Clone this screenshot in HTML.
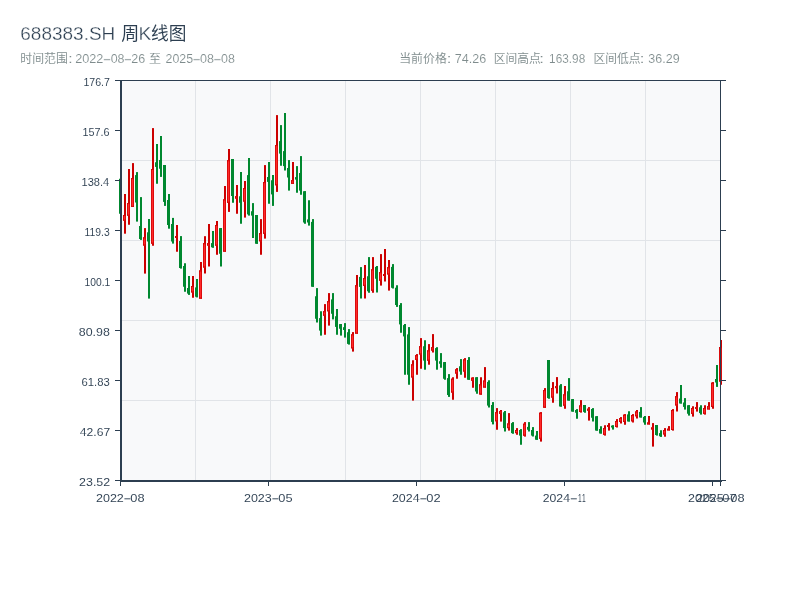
<!DOCTYPE html>
<html><head><meta charset="utf-8"><title>688383.SH</title>
<style>
html,body{margin:0;padding:0;background:#fff;width:800px;height:600px;overflow:hidden}
svg{display:block;will-change:transform}
text{font-family:"Liberation Sans","Noto Sans CJK SC",sans-serif;white-space:pre;stroke:#fff;stroke-width:.12px}
.t{stroke-width:.3px}
.l{stroke-width:.04px}
</style></head><body>
<svg width="800" height="600" viewBox="0 0 800 600">
<rect x="120" y="80" width="600" height="400" fill="#f8f9fa"/>
<rect x="195" y="80" width="1" height="400" fill="#e1e4e8"/>
<rect x="270" y="80" width="1" height="400" fill="#e1e4e8"/>
<rect x="345" y="80" width="1" height="400" fill="#e1e4e8"/>
<rect x="420" y="80" width="1" height="400" fill="#e1e4e8"/>
<rect x="495" y="80" width="1" height="400" fill="#e1e4e8"/>
<rect x="570" y="80" width="1" height="400" fill="#e1e4e8"/>
<rect x="645" y="80" width="1" height="400" fill="#e1e4e8"/>
<rect x="120" y="160" width="600" height="1" fill="#e1e4e8"/>
<rect x="120" y="240" width="600" height="1" fill="#e1e4e8"/>
<rect x="120" y="320" width="600" height="1" fill="#e1e4e8"/>
<rect x="120" y="400" width="600" height="1" fill="#e1e4e8"/>
<rect x="120" y="178.75" width="2" height="35.00" fill="#00882f"/>
<rect x="119" y="178.75" width="3" height="35.00" fill="#00882f"/>
<rect x="124" y="194.00" width="2" height="39.70" fill="#cc0000"/>
<rect x="123" y="215.00" width="3" height="5.60" fill="#ff2a2a"/>
<rect x="123" y="215.00" width="1" height="5.60" fill="#cc0000" opacity=".7"/>
<rect x="125" y="215.00" width="1" height="5.60" fill="#cc0000" opacity=".7"/>
<rect x="123" y="215.00" width="3" height="1.00" fill="#cc0000" opacity=".85"/>
<rect x="123" y="219.60" width="3" height="1.00" fill="#cc0000" opacity=".85"/>
<rect x="128" y="169.00" width="2" height="55.75" fill="#cc0000"/>
<rect x="127" y="203.10" width="3" height="12.50" fill="#ff2a2a"/>
<rect x="127" y="203.10" width="1" height="12.50" fill="#cc0000" opacity=".7"/>
<rect x="129" y="203.10" width="1" height="12.50" fill="#cc0000" opacity=".7"/>
<rect x="127" y="203.10" width="3" height="1.00" fill="#cc0000" opacity=".85"/>
<rect x="127" y="214.60" width="3" height="1.00" fill="#cc0000" opacity=".85"/>
<rect x="132" y="163.10" width="2" height="43.80" fill="#cc0000"/>
<rect x="131" y="178.10" width="3" height="28.80" fill="#ff2a2a"/>
<rect x="131" y="178.10" width="1" height="28.80" fill="#cc0000" opacity=".7"/>
<rect x="133" y="178.10" width="1" height="28.80" fill="#cc0000" opacity=".7"/>
<rect x="131" y="178.10" width="3" height="1.00" fill="#cc0000" opacity=".85"/>
<rect x="131" y="205.90" width="3" height="1.00" fill="#cc0000" opacity=".85"/>
<rect x="136" y="172.10" width="2" height="49.50" fill="#00882f"/>
<rect x="135" y="175.10" width="3" height="27.40" fill="#00882f"/>
<rect x="140" y="197.10" width="2" height="42.80" fill="#00882f"/>
<rect x="139" y="226.00" width="3" height="13.00" fill="#00882f"/>
<rect x="144" y="228.10" width="2" height="45.50" fill="#cc0000"/>
<rect x="143" y="237.40" width="3" height="8.10" fill="#ff2a2a"/>
<rect x="143" y="237.40" width="1" height="8.10" fill="#cc0000" opacity=".7"/>
<rect x="145" y="237.40" width="1" height="8.10" fill="#cc0000" opacity=".7"/>
<rect x="143" y="237.40" width="3" height="1.00" fill="#cc0000" opacity=".85"/>
<rect x="143" y="244.50" width="3" height="1.00" fill="#cc0000" opacity=".85"/>
<rect x="148" y="219.00" width="2" height="79.60" fill="#00882f"/>
<rect x="147" y="232.30" width="3" height="9.20" fill="#00882f"/>
<rect x="152" y="128.10" width="2" height="117.65" fill="#cc0000"/>
<rect x="151" y="169.00" width="3" height="74.60" fill="#ff2a2a"/>
<rect x="151" y="169.00" width="1" height="74.60" fill="#cc0000" opacity=".7"/>
<rect x="153" y="169.00" width="1" height="74.60" fill="#cc0000" opacity=".7"/>
<rect x="151" y="169.00" width="3" height="1.00" fill="#cc0000" opacity=".85"/>
<rect x="151" y="242.60" width="3" height="1.00" fill="#cc0000" opacity=".85"/>
<rect x="156" y="144.00" width="2" height="39.75" fill="#00882f"/>
<rect x="155" y="162.25" width="3" height="4.65" fill="#00882f"/>
<rect x="160" y="136.00" width="2" height="40.90" fill="#00882f"/>
<rect x="159" y="160.00" width="3" height="8.75" fill="#00882f"/>
<rect x="164" y="165.00" width="2" height="40.90" fill="#00882f"/>
<rect x="163" y="165.00" width="3" height="36.90" fill="#00882f"/>
<rect x="168" y="194.00" width="2" height="34.70" fill="#00882f"/>
<rect x="167" y="200.00" width="3" height="25.00" fill="#00882f"/>
<rect x="172" y="217.90" width="2" height="25.70" fill="#00882f"/>
<rect x="171" y="224.00" width="3" height="17.50" fill="#00882f"/>
<rect x="176" y="225.00" width="2" height="26.75" fill="#cc0000"/>
<rect x="175" y="236.00" width="3" height="1.90" fill="#ff2a2a"/>
<rect x="175" y="236.00" width="1" height="1.90" fill="#cc0000" opacity=".7"/>
<rect x="177" y="236.00" width="1" height="1.90" fill="#cc0000" opacity=".7"/>
<rect x="175" y="236.00" width="3" height="0.95" fill="#cc0000" opacity=".85"/>
<rect x="175" y="236.95" width="3" height="0.95" fill="#cc0000" opacity=".85"/>
<rect x="180" y="236.10" width="2" height="32.50" fill="#00882f"/>
<rect x="179" y="241.00" width="3" height="27.00" fill="#00882f"/>
<rect x="184" y="263.25" width="2" height="28.50" fill="#00882f"/>
<rect x="183" y="266.00" width="3" height="20.75" fill="#00882f"/>
<rect x="188" y="276.00" width="2" height="18.90" fill="#00882f"/>
<rect x="187" y="288.00" width="3" height="5.60" fill="#00882f"/>
<rect x="192" y="276.00" width="2" height="21.75" fill="#cc0000"/>
<rect x="191" y="286.00" width="3" height="6.40" fill="#ff2a2a"/>
<rect x="191" y="286.00" width="1" height="6.40" fill="#cc0000" opacity=".7"/>
<rect x="193" y="286.00" width="1" height="6.40" fill="#cc0000" opacity=".7"/>
<rect x="191" y="286.00" width="3" height="1.00" fill="#cc0000" opacity=".85"/>
<rect x="191" y="291.40" width="3" height="1.00" fill="#cc0000" opacity=".85"/>
<rect x="196" y="279.00" width="2" height="18.40" fill="#00882f"/>
<rect x="195" y="287.40" width="3" height="9.35" fill="#00882f"/>
<rect x="200" y="262.00" width="2" height="36.60" fill="#cc0000"/>
<rect x="199" y="270.50" width="3" height="28.10" fill="#ff2a2a"/>
<rect x="199" y="270.50" width="1" height="28.10" fill="#cc0000" opacity=".7"/>
<rect x="201" y="270.50" width="1" height="28.10" fill="#cc0000" opacity=".7"/>
<rect x="199" y="270.50" width="3" height="1.00" fill="#cc0000" opacity=".85"/>
<rect x="199" y="297.60" width="3" height="1.00" fill="#cc0000" opacity=".85"/>
<rect x="204" y="236.20" width="2" height="37.30" fill="#cc0000"/>
<rect x="203" y="243.20" width="3" height="24.30" fill="#ff2a2a"/>
<rect x="203" y="243.20" width="1" height="24.30" fill="#cc0000" opacity=".7"/>
<rect x="205" y="243.20" width="1" height="24.30" fill="#cc0000" opacity=".7"/>
<rect x="203" y="243.20" width="3" height="1.00" fill="#cc0000" opacity=".85"/>
<rect x="203" y="266.50" width="3" height="1.00" fill="#cc0000" opacity=".85"/>
<rect x="208" y="224.00" width="2" height="42.50" fill="#cc0000"/>
<rect x="207" y="243.20" width="3" height="2.30" fill="#ff2a2a"/>
<rect x="207" y="243.20" width="1" height="2.30" fill="#cc0000" opacity=".7"/>
<rect x="209" y="243.20" width="1" height="2.30" fill="#cc0000" opacity=".7"/>
<rect x="207" y="243.20" width="3" height="1.00" fill="#cc0000" opacity=".85"/>
<rect x="207" y="244.50" width="3" height="1.00" fill="#cc0000" opacity=".85"/>
<rect x="212" y="231.00" width="2" height="16.75" fill="#00882f"/>
<rect x="211" y="243.10" width="3" height="4.20" fill="#00882f"/>
<rect x="216" y="221.00" width="2" height="33.75" fill="#cc0000"/>
<rect x="215" y="225.00" width="3" height="20.60" fill="#ff2a2a"/>
<rect x="215" y="225.00" width="1" height="20.60" fill="#cc0000" opacity=".7"/>
<rect x="217" y="225.00" width="1" height="20.60" fill="#cc0000" opacity=".7"/>
<rect x="215" y="225.00" width="3" height="1.00" fill="#cc0000" opacity=".85"/>
<rect x="215" y="244.60" width="3" height="1.00" fill="#cc0000" opacity=".85"/>
<rect x="220" y="228.10" width="2" height="38.40" fill="#00882f"/>
<rect x="219" y="228.10" width="3" height="25.65" fill="#00882f"/>
<rect x="224" y="186.00" width="2" height="65.60" fill="#cc0000"/>
<rect x="223" y="199.40" width="3" height="52.20" fill="#ff2a2a"/>
<rect x="223" y="199.40" width="1" height="52.20" fill="#cc0000" opacity=".7"/>
<rect x="225" y="199.40" width="1" height="52.20" fill="#cc0000" opacity=".7"/>
<rect x="223" y="199.40" width="3" height="1.00" fill="#cc0000" opacity=".85"/>
<rect x="223" y="250.60" width="3" height="1.00" fill="#cc0000" opacity=".85"/>
<rect x="228" y="149.00" width="2" height="62.90" fill="#cc0000"/>
<rect x="227" y="160.25" width="3" height="42.50" fill="#ff2a2a"/>
<rect x="227" y="160.25" width="1" height="42.50" fill="#cc0000" opacity=".7"/>
<rect x="229" y="160.25" width="1" height="42.50" fill="#cc0000" opacity=".7"/>
<rect x="227" y="160.25" width="3" height="1.00" fill="#cc0000" opacity=".85"/>
<rect x="227" y="201.75" width="3" height="1.00" fill="#cc0000" opacity=".85"/>
<rect x="232" y="159.00" width="2" height="43.75" fill="#00882f"/>
<rect x="231" y="159.00" width="3" height="37.00" fill="#00882f"/>
<rect x="236" y="185.00" width="2" height="28.75" fill="#cc0000"/>
<rect x="235" y="196.25" width="3" height="2.25" fill="#ff2a2a"/>
<rect x="235" y="196.25" width="1" height="2.25" fill="#cc0000" opacity=".7"/>
<rect x="237" y="196.25" width="1" height="2.25" fill="#cc0000" opacity=".7"/>
<rect x="235" y="196.25" width="3" height="1.00" fill="#cc0000" opacity=".85"/>
<rect x="235" y="197.50" width="3" height="1.00" fill="#cc0000" opacity=".85"/>
<rect x="240" y="172.00" width="2" height="51.75" fill="#00882f"/>
<rect x="239" y="196.25" width="3" height="6.50" fill="#00882f"/>
<rect x="244" y="181.00" width="2" height="36.60" fill="#cc0000"/>
<rect x="243" y="188.10" width="3" height="13.40" fill="#ff2a2a"/>
<rect x="243" y="188.10" width="1" height="13.40" fill="#cc0000" opacity=".7"/>
<rect x="245" y="188.10" width="1" height="13.40" fill="#cc0000" opacity=".7"/>
<rect x="243" y="188.10" width="3" height="1.00" fill="#cc0000" opacity=".85"/>
<rect x="243" y="200.50" width="3" height="1.00" fill="#cc0000" opacity=".85"/>
<rect x="248" y="158.00" width="2" height="57.60" fill="#00882f"/>
<rect x="247" y="175.10" width="3" height="39.30" fill="#00882f"/>
<rect x="252" y="203.10" width="2" height="34.90" fill="#00882f"/>
<rect x="251" y="211.25" width="3" height="4.35" fill="#00882f"/>
<rect x="256" y="215.00" width="2" height="28.75" fill="#00882f"/>
<rect x="255" y="215.00" width="3" height="28.75" fill="#00882f"/>
<rect x="260" y="219.10" width="2" height="35.65" fill="#cc0000"/>
<rect x="259" y="233.10" width="3" height="8.15" fill="#ff2a2a"/>
<rect x="259" y="233.10" width="1" height="8.15" fill="#cc0000" opacity=".7"/>
<rect x="261" y="233.10" width="1" height="8.15" fill="#cc0000" opacity=".7"/>
<rect x="259" y="233.10" width="3" height="1.00" fill="#cc0000" opacity=".85"/>
<rect x="259" y="240.25" width="3" height="1.00" fill="#cc0000" opacity=".85"/>
<rect x="264" y="165.10" width="2" height="73.50" fill="#cc0000"/>
<rect x="263" y="182.10" width="3" height="51.65" fill="#ff2a2a"/>
<rect x="263" y="182.10" width="1" height="51.65" fill="#cc0000" opacity=".7"/>
<rect x="265" y="182.10" width="1" height="51.65" fill="#cc0000" opacity=".7"/>
<rect x="263" y="182.10" width="3" height="1.00" fill="#cc0000" opacity=".85"/>
<rect x="263" y="232.75" width="3" height="1.00" fill="#cc0000" opacity=".85"/>
<rect x="268" y="162.00" width="2" height="41.75" fill="#00882f"/>
<rect x="267" y="177.00" width="3" height="4.90" fill="#00882f"/>
<rect x="272" y="175.00" width="2" height="30.90" fill="#00882f"/>
<rect x="271" y="180.25" width="3" height="14.15" fill="#00882f"/>
<rect x="276" y="115.10" width="2" height="76.80" fill="#cc0000"/>
<rect x="275" y="145.10" width="3" height="40.15" fill="#ff2a2a"/>
<rect x="275" y="145.10" width="1" height="40.15" fill="#cc0000" opacity=".7"/>
<rect x="277" y="145.10" width="1" height="40.15" fill="#cc0000" opacity=".7"/>
<rect x="275" y="145.10" width="3" height="1.00" fill="#cc0000" opacity=".85"/>
<rect x="275" y="184.25" width="3" height="1.00" fill="#cc0000" opacity=".85"/>
<rect x="280" y="125.10" width="2" height="40.65" fill="#00882f"/>
<rect x="279" y="141.10" width="3" height="12.50" fill="#00882f"/>
<rect x="284" y="113.00" width="2" height="57.50" fill="#00882f"/>
<rect x="283" y="151.10" width="3" height="15.00" fill="#00882f"/>
<rect x="288" y="160.10" width="2" height="30.50" fill="#00882f"/>
<rect x="287" y="168.00" width="3" height="9.50" fill="#00882f"/>
<rect x="292" y="162.00" width="2" height="21.75" fill="#cc0000"/>
<rect x="291" y="180.25" width="3" height="3.50" fill="#ff2a2a"/>
<rect x="291" y="180.25" width="1" height="3.50" fill="#cc0000" opacity=".7"/>
<rect x="293" y="180.25" width="1" height="3.50" fill="#cc0000" opacity=".7"/>
<rect x="291" y="180.25" width="3" height="1.00" fill="#cc0000" opacity=".85"/>
<rect x="291" y="182.75" width="3" height="1.00" fill="#cc0000" opacity=".85"/>
<rect x="296" y="166.10" width="2" height="26.65" fill="#00882f"/>
<rect x="295" y="177.10" width="3" height="2.50" fill="#00882f"/>
<rect x="300" y="156.10" width="2" height="38.65" fill="#00882f"/>
<rect x="299" y="173.00" width="3" height="17.60" fill="#00882f"/>
<rect x="304" y="191.25" width="2" height="32.50" fill="#00882f"/>
<rect x="303" y="191.25" width="3" height="31.25" fill="#00882f"/>
<rect x="308" y="200.25" width="2" height="25.35" fill="#00882f"/>
<rect x="307" y="219.40" width="3" height="3.10" fill="#00882f"/>
<rect x="312" y="219.10" width="2" height="67.65" fill="#00882f"/>
<rect x="311" y="221.90" width="3" height="64.85" fill="#00882f"/>
<rect x="316" y="288.10" width="2" height="34.40" fill="#00882f"/>
<rect x="315" y="296.25" width="3" height="22.50" fill="#00882f"/>
<rect x="320" y="311.25" width="2" height="24.35" fill="#00882f"/>
<rect x="319" y="318.10" width="3" height="12.50" fill="#00882f"/>
<rect x="324" y="304.10" width="2" height="30.65" fill="#cc0000"/>
<rect x="323" y="311.25" width="3" height="4.35" fill="#ff2a2a"/>
<rect x="323" y="311.25" width="1" height="4.35" fill="#cc0000" opacity=".7"/>
<rect x="325" y="311.25" width="1" height="4.35" fill="#cc0000" opacity=".7"/>
<rect x="323" y="311.25" width="3" height="1.00" fill="#cc0000" opacity=".85"/>
<rect x="323" y="314.60" width="3" height="1.00" fill="#cc0000" opacity=".85"/>
<rect x="328" y="293.10" width="2" height="32.50" fill="#cc0000"/>
<rect x="327" y="301.25" width="3" height="10.00" fill="#ff2a2a"/>
<rect x="327" y="301.25" width="1" height="10.00" fill="#cc0000" opacity=".7"/>
<rect x="329" y="301.25" width="1" height="10.00" fill="#cc0000" opacity=".7"/>
<rect x="327" y="301.25" width="3" height="1.00" fill="#cc0000" opacity=".85"/>
<rect x="327" y="310.25" width="3" height="1.00" fill="#cc0000" opacity=".85"/>
<rect x="332" y="293.10" width="2" height="26.30" fill="#00882f"/>
<rect x="331" y="299.40" width="3" height="14.35" fill="#00882f"/>
<rect x="336" y="309.00" width="2" height="25.75" fill="#00882f"/>
<rect x="335" y="316.25" width="3" height="10.65" fill="#00882f"/>
<rect x="340" y="324.10" width="2" height="11.50" fill="#00882f"/>
<rect x="339" y="324.10" width="3" height="4.65" fill="#00882f"/>
<rect x="344" y="323.10" width="2" height="14.50" fill="#00882f"/>
<rect x="343" y="327.20" width="3" height="2.80" fill="#00882f"/>
<rect x="348" y="329.10" width="2" height="15.50" fill="#00882f"/>
<rect x="347" y="332.20" width="3" height="11.70" fill="#00882f"/>
<rect x="352" y="332.10" width="2" height="19.50" fill="#cc0000"/>
<rect x="351" y="334.40" width="3" height="13.90" fill="#ff2a2a"/>
<rect x="351" y="334.40" width="1" height="13.90" fill="#cc0000" opacity=".7"/>
<rect x="353" y="334.40" width="1" height="13.90" fill="#cc0000" opacity=".7"/>
<rect x="351" y="334.40" width="3" height="1.00" fill="#cc0000" opacity=".85"/>
<rect x="351" y="347.30" width="3" height="1.00" fill="#cc0000" opacity=".85"/>
<rect x="356" y="275.00" width="2" height="58.60" fill="#cc0000"/>
<rect x="355" y="285.30" width="3" height="48.30" fill="#ff2a2a"/>
<rect x="355" y="285.30" width="1" height="48.30" fill="#cc0000" opacity=".7"/>
<rect x="357" y="285.30" width="1" height="48.30" fill="#cc0000" opacity=".7"/>
<rect x="355" y="285.30" width="3" height="1.00" fill="#cc0000" opacity=".85"/>
<rect x="355" y="332.60" width="3" height="1.00" fill="#cc0000" opacity=".85"/>
<rect x="360" y="267.10" width="2" height="31.40" fill="#00882f"/>
<rect x="359" y="276.90" width="3" height="10.00" fill="#00882f"/>
<rect x="364" y="265.00" width="2" height="33.50" fill="#cc0000"/>
<rect x="363" y="278.10" width="3" height="7.70" fill="#ff2a2a"/>
<rect x="363" y="278.10" width="1" height="7.70" fill="#cc0000" opacity=".7"/>
<rect x="365" y="278.10" width="1" height="7.70" fill="#cc0000" opacity=".7"/>
<rect x="363" y="278.10" width="3" height="1.00" fill="#cc0000" opacity=".85"/>
<rect x="363" y="284.80" width="3" height="1.00" fill="#cc0000" opacity=".85"/>
<rect x="368" y="257.10" width="2" height="35.65" fill="#00882f"/>
<rect x="367" y="276.25" width="3" height="15.00" fill="#00882f"/>
<rect x="372" y="257.10" width="2" height="35.65" fill="#cc0000"/>
<rect x="371" y="269.40" width="3" height="21.20" fill="#ff2a2a"/>
<rect x="371" y="269.40" width="1" height="21.20" fill="#cc0000" opacity=".7"/>
<rect x="373" y="269.40" width="1" height="21.20" fill="#cc0000" opacity=".7"/>
<rect x="371" y="269.40" width="3" height="1.00" fill="#cc0000" opacity=".85"/>
<rect x="371" y="289.60" width="3" height="1.00" fill="#cc0000" opacity=".85"/>
<rect x="376" y="266.00" width="2" height="26.50" fill="#00882f"/>
<rect x="375" y="266.90" width="3" height="11.85" fill="#00882f"/>
<rect x="380" y="254.10" width="2" height="31.50" fill="#cc0000"/>
<rect x="379" y="272.25" width="3" height="8.35" fill="#ff2a2a"/>
<rect x="379" y="272.25" width="1" height="8.35" fill="#cc0000" opacity=".7"/>
<rect x="381" y="272.25" width="1" height="8.35" fill="#cc0000" opacity=".7"/>
<rect x="379" y="272.25" width="3" height="1.00" fill="#cc0000" opacity=".85"/>
<rect x="379" y="279.60" width="3" height="1.00" fill="#cc0000" opacity=".85"/>
<rect x="384" y="249.00" width="2" height="32.50" fill="#cc0000"/>
<rect x="383" y="274.00" width="3" height="2.00" fill="#ff2a2a"/>
<rect x="383" y="274.00" width="1" height="2.00" fill="#cc0000" opacity=".7"/>
<rect x="385" y="274.00" width="1" height="2.00" fill="#cc0000" opacity=".7"/>
<rect x="383" y="274.00" width="3" height="1.00" fill="#cc0000" opacity=".85"/>
<rect x="383" y="275.00" width="3" height="1.00" fill="#cc0000" opacity=".85"/>
<rect x="388" y="260.00" width="2" height="30.60" fill="#cc0000"/>
<rect x="387" y="267.25" width="3" height="7.15" fill="#ff2a2a"/>
<rect x="387" y="267.25" width="1" height="7.15" fill="#cc0000" opacity=".7"/>
<rect x="389" y="267.25" width="1" height="7.15" fill="#cc0000" opacity=".7"/>
<rect x="387" y="267.25" width="3" height="1.00" fill="#cc0000" opacity=".85"/>
<rect x="387" y="273.40" width="3" height="1.00" fill="#cc0000" opacity=".85"/>
<rect x="392" y="264.10" width="2" height="24.40" fill="#00882f"/>
<rect x="391" y="266.90" width="3" height="20.90" fill="#00882f"/>
<rect x="396" y="285.25" width="2" height="21.65" fill="#00882f"/>
<rect x="395" y="287.70" width="3" height="17.30" fill="#00882f"/>
<rect x="400" y="303.10" width="2" height="29.65" fill="#00882f"/>
<rect x="399" y="305.00" width="3" height="19.40" fill="#00882f"/>
<rect x="404" y="324.00" width="2" height="50.75" fill="#00882f"/>
<rect x="403" y="325.10" width="3" height="11.30" fill="#00882f"/>
<rect x="408" y="327.10" width="2" height="57.65" fill="#00882f"/>
<rect x="407" y="334.40" width="3" height="40.35" fill="#00882f"/>
<rect x="412" y="360.25" width="2" height="40.35" fill="#cc0000"/>
<rect x="411" y="364.40" width="3" height="13.00" fill="#ff2a2a"/>
<rect x="411" y="364.40" width="1" height="13.00" fill="#cc0000" opacity=".7"/>
<rect x="413" y="364.40" width="1" height="13.00" fill="#cc0000" opacity=".7"/>
<rect x="411" y="364.40" width="3" height="1.00" fill="#cc0000" opacity=".85"/>
<rect x="411" y="376.40" width="3" height="1.00" fill="#cc0000" opacity=".85"/>
<rect x="416" y="354.10" width="2" height="20.65" fill="#cc0000"/>
<rect x="415" y="355.25" width="3" height="4.50" fill="#ff2a2a"/>
<rect x="415" y="355.25" width="1" height="4.50" fill="#cc0000" opacity=".7"/>
<rect x="417" y="355.25" width="1" height="4.50" fill="#cc0000" opacity=".7"/>
<rect x="415" y="355.25" width="3" height="1.00" fill="#cc0000" opacity=".85"/>
<rect x="415" y="358.75" width="3" height="1.00" fill="#cc0000" opacity=".85"/>
<rect x="420" y="338.10" width="2" height="30.65" fill="#cc0000"/>
<rect x="419" y="346.25" width="3" height="8.15" fill="#ff2a2a"/>
<rect x="419" y="346.25" width="1" height="8.15" fill="#cc0000" opacity=".7"/>
<rect x="421" y="346.25" width="1" height="8.15" fill="#cc0000" opacity=".7"/>
<rect x="419" y="346.25" width="3" height="1.00" fill="#cc0000" opacity=".85"/>
<rect x="419" y="353.40" width="3" height="1.00" fill="#cc0000" opacity=".85"/>
<rect x="424" y="340.25" width="2" height="29.45" fill="#00882f"/>
<rect x="423" y="346.25" width="3" height="14.35" fill="#00882f"/>
<rect x="428" y="344.10" width="2" height="20.60" fill="#cc0000"/>
<rect x="427" y="350.40" width="3" height="10.20" fill="#ff2a2a"/>
<rect x="427" y="350.40" width="1" height="10.20" fill="#cc0000" opacity=".7"/>
<rect x="429" y="350.40" width="1" height="10.20" fill="#cc0000" opacity=".7"/>
<rect x="427" y="350.40" width="3" height="1.00" fill="#cc0000" opacity=".85"/>
<rect x="427" y="359.60" width="3" height="1.00" fill="#cc0000" opacity=".85"/>
<rect x="432" y="334.10" width="2" height="18.40" fill="#cc0000"/>
<rect x="431" y="347.25" width="3" height="3.25" fill="#ff2a2a"/>
<rect x="431" y="347.25" width="1" height="3.25" fill="#cc0000" opacity=".7"/>
<rect x="433" y="347.25" width="1" height="3.25" fill="#cc0000" opacity=".7"/>
<rect x="431" y="347.25" width="3" height="1.00" fill="#cc0000" opacity=".85"/>
<rect x="431" y="349.50" width="3" height="1.00" fill="#cc0000" opacity=".85"/>
<rect x="436" y="347.20" width="2" height="22.50" fill="#00882f"/>
<rect x="435" y="348.10" width="3" height="12.50" fill="#00882f"/>
<rect x="440" y="353.10" width="2" height="14.65" fill="#00882f"/>
<rect x="439" y="361.25" width="3" height="2.50" fill="#00882f"/>
<rect x="444" y="362.10" width="2" height="17.65" fill="#00882f"/>
<rect x="443" y="362.10" width="3" height="16.65" fill="#00882f"/>
<rect x="448" y="374.10" width="2" height="22.80" fill="#00882f"/>
<rect x="447" y="378.10" width="3" height="16.90" fill="#00882f"/>
<rect x="452" y="377.25" width="2" height="22.50" fill="#cc0000"/>
<rect x="451" y="378.75" width="3" height="13.75" fill="#ff2a2a"/>
<rect x="451" y="378.75" width="1" height="13.75" fill="#cc0000" opacity=".7"/>
<rect x="453" y="378.75" width="1" height="13.75" fill="#cc0000" opacity=".7"/>
<rect x="451" y="378.75" width="3" height="1.00" fill="#cc0000" opacity=".85"/>
<rect x="451" y="391.50" width="3" height="1.00" fill="#cc0000" opacity=".85"/>
<rect x="456" y="368.10" width="2" height="10.65" fill="#cc0000"/>
<rect x="455" y="369.40" width="3" height="4.10" fill="#ff2a2a"/>
<rect x="455" y="369.40" width="1" height="4.10" fill="#cc0000" opacity=".7"/>
<rect x="457" y="369.40" width="1" height="4.10" fill="#cc0000" opacity=".7"/>
<rect x="455" y="369.40" width="3" height="1.00" fill="#cc0000" opacity=".85"/>
<rect x="455" y="372.50" width="3" height="1.00" fill="#cc0000" opacity=".85"/>
<rect x="460" y="359.10" width="2" height="15.65" fill="#00882f"/>
<rect x="459" y="366.25" width="3" height="5.25" fill="#00882f"/>
<rect x="464" y="358.10" width="2" height="19.65" fill="#cc0000"/>
<rect x="463" y="359.40" width="3" height="12.10" fill="#ff2a2a"/>
<rect x="463" y="359.40" width="1" height="12.10" fill="#cc0000" opacity=".7"/>
<rect x="465" y="359.40" width="1" height="12.10" fill="#cc0000" opacity=".7"/>
<rect x="463" y="359.40" width="3" height="1.00" fill="#cc0000" opacity=".85"/>
<rect x="463" y="370.50" width="3" height="1.00" fill="#cc0000" opacity=".85"/>
<rect x="468" y="357.10" width="2" height="22.65" fill="#00882f"/>
<rect x="467" y="360.00" width="3" height="19.75" fill="#00882f"/>
<rect x="472" y="377.25" width="2" height="10.50" fill="#cc0000"/>
<rect x="471" y="377.75" width="3" height="2.85" fill="#ff2a2a"/>
<rect x="471" y="377.75" width="1" height="2.85" fill="#cc0000" opacity=".7"/>
<rect x="473" y="377.75" width="1" height="2.85" fill="#cc0000" opacity=".7"/>
<rect x="471" y="377.75" width="3" height="1.00" fill="#cc0000" opacity=".85"/>
<rect x="471" y="379.60" width="3" height="1.00" fill="#cc0000" opacity=".85"/>
<rect x="476" y="377.25" width="2" height="16.50" fill="#00882f"/>
<rect x="475" y="377.25" width="3" height="14.25" fill="#00882f"/>
<rect x="480" y="377.25" width="2" height="17.50" fill="#cc0000"/>
<rect x="479" y="384.40" width="3" height="10.00" fill="#ff2a2a"/>
<rect x="479" y="384.40" width="1" height="10.00" fill="#cc0000" opacity=".7"/>
<rect x="481" y="384.40" width="1" height="10.00" fill="#cc0000" opacity=".7"/>
<rect x="479" y="384.40" width="3" height="1.00" fill="#cc0000" opacity=".85"/>
<rect x="479" y="393.40" width="3" height="1.00" fill="#cc0000" opacity=".85"/>
<rect x="484" y="367.10" width="2" height="20.40" fill="#cc0000"/>
<rect x="483" y="380.60" width="3" height="6.90" fill="#ff2a2a"/>
<rect x="483" y="380.60" width="1" height="6.90" fill="#cc0000" opacity=".7"/>
<rect x="485" y="380.60" width="1" height="6.90" fill="#cc0000" opacity=".7"/>
<rect x="483" y="380.60" width="3" height="1.00" fill="#cc0000" opacity=".85"/>
<rect x="483" y="386.50" width="3" height="1.00" fill="#cc0000" opacity=".85"/>
<rect x="488" y="380.25" width="2" height="27.25" fill="#00882f"/>
<rect x="487" y="381.90" width="3" height="23.70" fill="#00882f"/>
<rect x="492" y="402.10" width="2" height="22.30" fill="#00882f"/>
<rect x="491" y="405.00" width="3" height="16.90" fill="#00882f"/>
<rect x="496" y="408.10" width="2" height="21.65" fill="#cc0000"/>
<rect x="495" y="412.25" width="3" height="9.00" fill="#ff2a2a"/>
<rect x="495" y="412.25" width="1" height="9.00" fill="#cc0000" opacity=".7"/>
<rect x="497" y="412.25" width="1" height="9.00" fill="#cc0000" opacity=".7"/>
<rect x="495" y="412.25" width="3" height="1.00" fill="#cc0000" opacity=".85"/>
<rect x="495" y="420.25" width="3" height="1.00" fill="#cc0000" opacity=".85"/>
<rect x="500" y="410.00" width="2" height="11.60" fill="#cc0000"/>
<rect x="499" y="411.25" width="3" height="2.50" fill="#ff2a2a"/>
<rect x="499" y="411.25" width="1" height="2.50" fill="#cc0000" opacity=".7"/>
<rect x="501" y="411.25" width="1" height="2.50" fill="#cc0000" opacity=".7"/>
<rect x="499" y="411.25" width="3" height="1.00" fill="#cc0000" opacity=".85"/>
<rect x="499" y="412.75" width="3" height="1.00" fill="#cc0000" opacity=".85"/>
<rect x="504" y="411.00" width="2" height="20.50" fill="#00882f"/>
<rect x="503" y="412.25" width="3" height="15.85" fill="#00882f"/>
<rect x="508" y="413.10" width="2" height="17.50" fill="#cc0000"/>
<rect x="507" y="423.50" width="3" height="4.60" fill="#ff2a2a"/>
<rect x="507" y="423.50" width="1" height="4.60" fill="#cc0000" opacity=".7"/>
<rect x="509" y="423.50" width="1" height="4.60" fill="#cc0000" opacity=".7"/>
<rect x="507" y="423.50" width="3" height="1.00" fill="#cc0000" opacity=".85"/>
<rect x="507" y="427.10" width="3" height="1.00" fill="#cc0000" opacity=".85"/>
<rect x="512" y="422.10" width="2" height="11.65" fill="#00882f"/>
<rect x="511" y="423.10" width="3" height="10.00" fill="#00882f"/>
<rect x="516" y="428.10" width="2" height="6.65" fill="#cc0000"/>
<rect x="515" y="430.00" width="3" height="3.10" fill="#ff2a2a"/>
<rect x="515" y="430.00" width="1" height="3.10" fill="#cc0000" opacity=".7"/>
<rect x="517" y="430.00" width="1" height="3.10" fill="#cc0000" opacity=".7"/>
<rect x="515" y="430.00" width="3" height="1.00" fill="#cc0000" opacity=".85"/>
<rect x="515" y="432.10" width="3" height="1.00" fill="#cc0000" opacity=".85"/>
<rect x="520" y="429.10" width="2" height="15.65" fill="#00882f"/>
<rect x="519" y="430.00" width="3" height="5.60" fill="#00882f"/>
<rect x="524" y="422.10" width="2" height="14.50" fill="#cc0000"/>
<rect x="523" y="423.75" width="3" height="11.85" fill="#ff2a2a"/>
<rect x="523" y="423.75" width="1" height="11.85" fill="#cc0000" opacity=".7"/>
<rect x="525" y="423.75" width="1" height="11.85" fill="#cc0000" opacity=".7"/>
<rect x="523" y="423.75" width="3" height="1.00" fill="#cc0000" opacity=".85"/>
<rect x="523" y="434.60" width="3" height="1.00" fill="#cc0000" opacity=".85"/>
<rect x="528" y="422.10" width="2" height="9.40" fill="#00882f"/>
<rect x="527" y="426.90" width="3" height="2.85" fill="#00882f"/>
<rect x="532" y="427.10" width="2" height="9.40" fill="#00882f"/>
<rect x="531" y="430.00" width="3" height="5.60" fill="#00882f"/>
<rect x="536" y="431.00" width="2" height="8.75" fill="#00882f"/>
<rect x="535" y="435.60" width="3" height="4.15" fill="#00882f"/>
<rect x="540" y="412.10" width="2" height="29.50" fill="#cc0000"/>
<rect x="539" y="412.75" width="3" height="26.00" fill="#ff2a2a"/>
<rect x="539" y="412.75" width="1" height="26.00" fill="#cc0000" opacity=".7"/>
<rect x="541" y="412.75" width="1" height="26.00" fill="#cc0000" opacity=".7"/>
<rect x="539" y="412.75" width="3" height="1.00" fill="#cc0000" opacity=".85"/>
<rect x="539" y="437.75" width="3" height="1.00" fill="#cc0000" opacity=".85"/>
<rect x="544" y="388.10" width="2" height="19.65" fill="#cc0000"/>
<rect x="543" y="390.10" width="3" height="17.50" fill="#ff2a2a"/>
<rect x="543" y="390.10" width="1" height="17.50" fill="#cc0000" opacity=".7"/>
<rect x="545" y="390.10" width="1" height="17.50" fill="#cc0000" opacity=".7"/>
<rect x="543" y="390.10" width="3" height="1.00" fill="#cc0000" opacity=".85"/>
<rect x="543" y="406.60" width="3" height="1.00" fill="#cc0000" opacity=".85"/>
<rect x="548" y="360.00" width="2" height="38.75" fill="#00882f"/>
<rect x="547" y="360.00" width="3" height="38.10" fill="#00882f"/>
<rect x="552" y="382.10" width="2" height="20.65" fill="#cc0000"/>
<rect x="551" y="388.10" width="3" height="9.40" fill="#ff2a2a"/>
<rect x="551" y="388.10" width="1" height="9.40" fill="#cc0000" opacity=".7"/>
<rect x="553" y="388.10" width="1" height="9.40" fill="#cc0000" opacity=".7"/>
<rect x="551" y="388.10" width="3" height="1.00" fill="#cc0000" opacity=".85"/>
<rect x="551" y="396.50" width="3" height="1.00" fill="#cc0000" opacity=".85"/>
<rect x="556" y="377.10" width="2" height="16.40" fill="#cc0000"/>
<rect x="555" y="386.25" width="3" height="1.85" fill="#ff2a2a"/>
<rect x="555" y="386.25" width="1" height="1.85" fill="#cc0000" opacity=".7"/>
<rect x="557" y="386.25" width="1" height="1.85" fill="#cc0000" opacity=".7"/>
<rect x="555" y="386.25" width="3" height="0.93" fill="#cc0000" opacity=".85"/>
<rect x="555" y="387.18" width="3" height="0.93" fill="#cc0000" opacity=".85"/>
<rect x="560" y="384.10" width="2" height="22.50" fill="#00882f"/>
<rect x="559" y="385.40" width="3" height="21.10" fill="#00882f"/>
<rect x="564" y="386.00" width="2" height="22.75" fill="#cc0000"/>
<rect x="563" y="394.40" width="3" height="11.20" fill="#ff2a2a"/>
<rect x="563" y="394.40" width="1" height="11.20" fill="#cc0000" opacity=".7"/>
<rect x="565" y="394.40" width="1" height="11.20" fill="#cc0000" opacity=".7"/>
<rect x="563" y="394.40" width="3" height="1.00" fill="#cc0000" opacity=".85"/>
<rect x="563" y="404.60" width="3" height="1.00" fill="#cc0000" opacity=".85"/>
<rect x="568" y="378.10" width="2" height="22.50" fill="#00882f"/>
<rect x="567" y="391.25" width="3" height="9.35" fill="#00882f"/>
<rect x="572" y="399.10" width="2" height="12.50" fill="#00882f"/>
<rect x="571" y="399.10" width="3" height="12.50" fill="#00882f"/>
<rect x="576" y="409.10" width="2" height="9.65" fill="#00882f"/>
<rect x="575" y="410.00" width="3" height="2.75" fill="#00882f"/>
<rect x="580" y="400.10" width="2" height="12.50" fill="#cc0000"/>
<rect x="579" y="405.50" width="3" height="6.40" fill="#ff2a2a"/>
<rect x="579" y="405.50" width="1" height="6.40" fill="#cc0000" opacity=".7"/>
<rect x="581" y="405.50" width="1" height="6.40" fill="#cc0000" opacity=".7"/>
<rect x="579" y="405.50" width="3" height="1.00" fill="#cc0000" opacity=".85"/>
<rect x="579" y="410.90" width="3" height="1.00" fill="#cc0000" opacity=".85"/>
<rect x="584" y="405.00" width="2" height="7.75" fill="#00882f"/>
<rect x="583" y="405.00" width="3" height="6.90" fill="#00882f"/>
<rect x="588" y="407.10" width="2" height="13.50" fill="#cc0000"/>
<rect x="587" y="408.75" width="3" height="1.85" fill="#ff2a2a"/>
<rect x="587" y="408.75" width="1" height="1.85" fill="#cc0000" opacity=".7"/>
<rect x="589" y="408.75" width="1" height="1.85" fill="#cc0000" opacity=".7"/>
<rect x="587" y="408.75" width="3" height="0.93" fill="#cc0000" opacity=".85"/>
<rect x="587" y="409.68" width="3" height="0.93" fill="#cc0000" opacity=".85"/>
<rect x="592" y="408.10" width="2" height="13.40" fill="#00882f"/>
<rect x="591" y="409.00" width="3" height="8.75" fill="#00882f"/>
<rect x="596" y="416.25" width="2" height="14.35" fill="#00882f"/>
<rect x="595" y="416.25" width="3" height="14.35" fill="#00882f"/>
<rect x="600" y="426.25" width="2" height="7.25" fill="#00882f"/>
<rect x="599" y="429.00" width="3" height="4.50" fill="#00882f"/>
<rect x="604" y="425.25" width="2" height="10.35" fill="#cc0000"/>
<rect x="603" y="428.10" width="3" height="6.65" fill="#ff2a2a"/>
<rect x="603" y="428.10" width="1" height="6.65" fill="#cc0000" opacity=".7"/>
<rect x="605" y="428.10" width="1" height="6.65" fill="#cc0000" opacity=".7"/>
<rect x="603" y="428.10" width="3" height="1.00" fill="#cc0000" opacity=".85"/>
<rect x="603" y="433.75" width="3" height="1.00" fill="#cc0000" opacity=".85"/>
<rect x="608" y="423.10" width="2" height="7.50" fill="#cc0000"/>
<rect x="607" y="425.00" width="3" height="1.90" fill="#ff2a2a"/>
<rect x="607" y="425.00" width="1" height="1.90" fill="#cc0000" opacity=".7"/>
<rect x="609" y="425.00" width="1" height="1.90" fill="#cc0000" opacity=".7"/>
<rect x="607" y="425.00" width="3" height="0.95" fill="#cc0000" opacity=".85"/>
<rect x="607" y="425.95" width="3" height="0.95" fill="#cc0000" opacity=".85"/>
<rect x="612" y="425.25" width="2" height="4.35" fill="#00882f"/>
<rect x="611" y="425.60" width="3" height="1.90" fill="#00882f"/>
<rect x="616" y="419.10" width="2" height="8.40" fill="#cc0000"/>
<rect x="615" y="421.00" width="3" height="5.90" fill="#ff2a2a"/>
<rect x="615" y="421.00" width="1" height="5.90" fill="#cc0000" opacity=".7"/>
<rect x="617" y="421.00" width="1" height="5.90" fill="#cc0000" opacity=".7"/>
<rect x="615" y="421.00" width="3" height="1.00" fill="#cc0000" opacity=".85"/>
<rect x="615" y="425.90" width="3" height="1.00" fill="#cc0000" opacity=".85"/>
<rect x="620" y="417.10" width="2" height="6.40" fill="#cc0000"/>
<rect x="619" y="418.10" width="3" height="3.80" fill="#ff2a2a"/>
<rect x="619" y="418.10" width="1" height="3.80" fill="#cc0000" opacity=".7"/>
<rect x="621" y="418.10" width="1" height="3.80" fill="#cc0000" opacity=".7"/>
<rect x="619" y="418.10" width="3" height="1.00" fill="#cc0000" opacity=".85"/>
<rect x="619" y="420.90" width="3" height="1.00" fill="#cc0000" opacity=".85"/>
<rect x="624" y="414.10" width="2" height="10.65" fill="#cc0000"/>
<rect x="623" y="414.75" width="3" height="7.15" fill="#ff2a2a"/>
<rect x="623" y="414.75" width="1" height="7.15" fill="#cc0000" opacity=".7"/>
<rect x="625" y="414.75" width="1" height="7.15" fill="#cc0000" opacity=".7"/>
<rect x="623" y="414.75" width="3" height="1.00" fill="#cc0000" opacity=".85"/>
<rect x="623" y="420.90" width="3" height="1.00" fill="#cc0000" opacity=".85"/>
<rect x="628" y="411.25" width="2" height="10.25" fill="#00882f"/>
<rect x="627" y="414.40" width="3" height="7.10" fill="#00882f"/>
<rect x="632" y="414.10" width="2" height="8.40" fill="#cc0000"/>
<rect x="631" y="415.00" width="3" height="6.25" fill="#ff2a2a"/>
<rect x="631" y="415.00" width="1" height="6.25" fill="#cc0000" opacity=".7"/>
<rect x="633" y="415.00" width="1" height="6.25" fill="#cc0000" opacity=".7"/>
<rect x="631" y="415.00" width="3" height="1.00" fill="#cc0000" opacity=".85"/>
<rect x="631" y="420.25" width="3" height="1.00" fill="#cc0000" opacity=".85"/>
<rect x="636" y="410.00" width="2" height="8.50" fill="#cc0000"/>
<rect x="635" y="411.50" width="3" height="4.75" fill="#ff2a2a"/>
<rect x="635" y="411.50" width="1" height="4.75" fill="#cc0000" opacity=".7"/>
<rect x="637" y="411.50" width="1" height="4.75" fill="#cc0000" opacity=".7"/>
<rect x="635" y="411.50" width="3" height="1.00" fill="#cc0000" opacity=".85"/>
<rect x="635" y="415.25" width="3" height="1.00" fill="#cc0000" opacity=".85"/>
<rect x="640" y="407.10" width="2" height="10.40" fill="#00882f"/>
<rect x="639" y="411.90" width="3" height="5.60" fill="#00882f"/>
<rect x="644" y="416.00" width="2" height="8.75" fill="#00882f"/>
<rect x="643" y="416.90" width="3" height="5.60" fill="#00882f"/>
<rect x="648" y="416.00" width="2" height="8.40" fill="#cc0000"/>
<rect x="647" y="422.50" width="3" height="1.90" fill="#ff2a2a"/>
<rect x="647" y="422.50" width="1" height="1.90" fill="#cc0000" opacity=".7"/>
<rect x="649" y="422.50" width="1" height="1.90" fill="#cc0000" opacity=".7"/>
<rect x="647" y="422.50" width="3" height="0.95" fill="#cc0000" opacity=".85"/>
<rect x="647" y="423.45" width="3" height="0.95" fill="#cc0000" opacity=".85"/>
<rect x="652" y="423.10" width="2" height="23.50" fill="#cc0000"/>
<rect x="651" y="427.50" width="3" height="1.90" fill="#ff2a2a"/>
<rect x="651" y="427.50" width="1" height="1.90" fill="#cc0000" opacity=".7"/>
<rect x="653" y="427.50" width="1" height="1.90" fill="#cc0000" opacity=".7"/>
<rect x="651" y="427.50" width="3" height="0.95" fill="#cc0000" opacity=".85"/>
<rect x="651" y="428.45" width="3" height="0.95" fill="#cc0000" opacity=".85"/>
<rect x="656" y="425.00" width="2" height="10.60" fill="#00882f"/>
<rect x="655" y="425.00" width="3" height="10.00" fill="#00882f"/>
<rect x="660" y="430.25" width="2" height="6.65" fill="#00882f"/>
<rect x="659" y="433.10" width="3" height="3.15" fill="#00882f"/>
<rect x="664" y="428.10" width="2" height="8.60" fill="#cc0000"/>
<rect x="663" y="430.00" width="3" height="4.40" fill="#ff2a2a"/>
<rect x="663" y="430.00" width="1" height="4.40" fill="#cc0000" opacity=".7"/>
<rect x="665" y="430.00" width="1" height="4.40" fill="#cc0000" opacity=".7"/>
<rect x="663" y="430.00" width="3" height="1.00" fill="#cc0000" opacity=".85"/>
<rect x="663" y="433.40" width="3" height="1.00" fill="#cc0000" opacity=".85"/>
<rect x="668" y="426.10" width="2" height="4.30" fill="#cc0000"/>
<rect x="667" y="428.75" width="3" height="1.65" fill="#ff2a2a"/>
<rect x="667" y="428.75" width="1" height="1.65" fill="#cc0000" opacity=".7"/>
<rect x="669" y="428.75" width="1" height="1.65" fill="#cc0000" opacity=".7"/>
<rect x="667" y="428.75" width="3" height="0.82" fill="#cc0000" opacity=".85"/>
<rect x="667" y="429.57" width="3" height="0.82" fill="#cc0000" opacity=".85"/>
<rect x="672" y="409.10" width="2" height="21.50" fill="#cc0000"/>
<rect x="671" y="410.00" width="3" height="20.00" fill="#ff2a2a"/>
<rect x="671" y="410.00" width="1" height="20.00" fill="#cc0000" opacity=".7"/>
<rect x="673" y="410.00" width="1" height="20.00" fill="#cc0000" opacity=".7"/>
<rect x="671" y="410.00" width="3" height="1.00" fill="#cc0000" opacity=".85"/>
<rect x="671" y="429.00" width="3" height="1.00" fill="#cc0000" opacity=".85"/>
<rect x="676" y="392.10" width="2" height="19.40" fill="#cc0000"/>
<rect x="675" y="396.25" width="3" height="9.15" fill="#ff2a2a"/>
<rect x="675" y="396.25" width="1" height="9.15" fill="#cc0000" opacity=".7"/>
<rect x="677" y="396.25" width="1" height="9.15" fill="#cc0000" opacity=".7"/>
<rect x="675" y="396.25" width="3" height="1.00" fill="#cc0000" opacity=".85"/>
<rect x="675" y="404.40" width="3" height="1.00" fill="#cc0000" opacity=".85"/>
<rect x="680" y="385.00" width="2" height="18.50" fill="#00882f"/>
<rect x="679" y="398.50" width="3" height="5.00" fill="#00882f"/>
<rect x="684" y="398.10" width="2" height="11.50" fill="#00882f"/>
<rect x="683" y="402.50" width="3" height="4.40" fill="#00882f"/>
<rect x="688" y="405.25" width="2" height="10.35" fill="#00882f"/>
<rect x="687" y="405.25" width="3" height="8.50" fill="#00882f"/>
<rect x="692" y="406.25" width="2" height="10.35" fill="#cc0000"/>
<rect x="691" y="408.10" width="3" height="5.65" fill="#ff2a2a"/>
<rect x="691" y="408.10" width="1" height="5.65" fill="#cc0000" opacity=".7"/>
<rect x="693" y="408.10" width="1" height="5.65" fill="#cc0000" opacity=".7"/>
<rect x="691" y="408.10" width="3" height="1.00" fill="#cc0000" opacity=".85"/>
<rect x="691" y="412.75" width="3" height="1.00" fill="#cc0000" opacity=".85"/>
<rect x="696" y="402.10" width="2" height="9.50" fill="#cc0000"/>
<rect x="695" y="407.25" width="3" height="1.50" fill="#ff2a2a"/>
<rect x="695" y="407.25" width="1" height="1.50" fill="#cc0000" opacity=".7"/>
<rect x="697" y="407.25" width="1" height="1.50" fill="#cc0000" opacity=".7"/>
<rect x="695" y="407.25" width="3" height="0.75" fill="#cc0000" opacity=".85"/>
<rect x="695" y="408.00" width="3" height="0.75" fill="#cc0000" opacity=".85"/>
<rect x="700" y="405.25" width="2" height="9.35" fill="#00882f"/>
<rect x="699" y="407.25" width="3" height="5.85" fill="#00882f"/>
<rect x="704" y="405.25" width="2" height="9.35" fill="#cc0000"/>
<rect x="703" y="408.10" width="3" height="5.65" fill="#ff2a2a"/>
<rect x="703" y="408.10" width="1" height="5.65" fill="#cc0000" opacity=".7"/>
<rect x="705" y="408.10" width="1" height="5.65" fill="#cc0000" opacity=".7"/>
<rect x="703" y="408.10" width="3" height="1.00" fill="#cc0000" opacity=".85"/>
<rect x="703" y="412.75" width="3" height="1.00" fill="#cc0000" opacity=".85"/>
<rect x="708" y="402.10" width="2" height="7.30" fill="#cc0000"/>
<rect x="707" y="406.25" width="3" height="3.15" fill="#ff2a2a"/>
<rect x="707" y="406.25" width="1" height="3.15" fill="#cc0000" opacity=".7"/>
<rect x="709" y="406.25" width="1" height="3.15" fill="#cc0000" opacity=".7"/>
<rect x="707" y="406.25" width="3" height="1.00" fill="#cc0000" opacity=".85"/>
<rect x="707" y="408.40" width="3" height="1.00" fill="#cc0000" opacity=".85"/>
<rect x="712" y="382.10" width="2" height="26.65" fill="#cc0000"/>
<rect x="711" y="382.75" width="3" height="24.15" fill="#ff2a2a"/>
<rect x="711" y="382.75" width="1" height="24.15" fill="#cc0000" opacity=".7"/>
<rect x="713" y="382.75" width="1" height="24.15" fill="#cc0000" opacity=".7"/>
<rect x="711" y="382.75" width="3" height="1.00" fill="#cc0000" opacity=".85"/>
<rect x="711" y="405.90" width="3" height="1.00" fill="#cc0000" opacity=".85"/>
<rect x="716" y="365.00" width="2" height="21.90" fill="#00882f"/>
<rect x="715" y="379.00" width="3" height="3.50" fill="#00882f"/>
<rect x="720" y="340.00" width="2" height="44.75" fill="#cc0000"/>
<rect x="719" y="347.10" width="3" height="34.40" fill="#ff2a2a"/>
<rect x="719" y="347.10" width="1" height="34.40" fill="#cc0000" opacity=".7"/>
<rect x="721" y="347.10" width="1" height="34.40" fill="#cc0000" opacity=".7"/>
<rect x="719" y="347.10" width="3" height="1.00" fill="#cc0000" opacity=".85"/>
<rect x="719" y="380.50" width="3" height="1.00" fill="#cc0000" opacity=".85"/>
<rect x="120" y="80" width="601" height="1" fill="#2c3e50"/>
<rect x="720" y="80" width="1" height="402" fill="#2c3e50"/>
<rect x="120" y="80" width="2" height="402" fill="#2c3e50"/>
<rect x="120" y="480" width="602" height="2" fill="#2c3e50"/>
<rect x="115" y="80" width="5" height="1" fill="#2c3e50"/>
<rect x="721" y="80" width="5" height="1" fill="#2c3e50"/>
<rect x="115" y="130" width="5" height="1" fill="#2c3e50"/>
<rect x="721" y="130" width="5" height="1" fill="#2c3e50"/>
<rect x="115" y="180" width="5" height="1" fill="#2c3e50"/>
<rect x="721" y="180" width="5" height="1" fill="#2c3e50"/>
<rect x="115" y="230" width="5" height="1" fill="#2c3e50"/>
<rect x="721" y="230" width="5" height="1" fill="#2c3e50"/>
<rect x="115" y="280" width="5" height="1" fill="#2c3e50"/>
<rect x="721" y="280" width="5" height="1" fill="#2c3e50"/>
<rect x="115" y="330" width="5" height="1" fill="#2c3e50"/>
<rect x="721" y="330" width="5" height="1" fill="#2c3e50"/>
<rect x="115" y="380" width="5" height="1" fill="#2c3e50"/>
<rect x="721" y="380" width="5" height="1" fill="#2c3e50"/>
<rect x="115" y="430" width="5" height="1" fill="#2c3e50"/>
<rect x="721" y="430" width="5" height="1" fill="#2c3e50"/>
<rect x="115" y="480" width="5" height="1" fill="#2c3e50"/>
<rect x="721" y="480" width="5" height="1" fill="#2c3e50"/>
<text x="83.44" y="86.10" font-size="11" fill="#2c3e50" textLength="26.49" lengthAdjust="spacingAndGlyphs" class="l">176.7</text>
<text x="82.53" y="136.10" font-size="11" fill="#2c3e50" textLength="27.10" lengthAdjust="spacingAndGlyphs" class="l">157.6</text>
<text x="81.56" y="186.10" font-size="11" fill="#2c3e50" textLength="27.67" lengthAdjust="spacingAndGlyphs" class="l">138.4</text>
<text x="84.53" y="236.10" font-size="11" fill="#2c3e50" textLength="25.16" lengthAdjust="spacingAndGlyphs" class="l">119.3</text>
<text x="84.52" y="286.10" font-size="11" fill="#2c3e50" textLength="25.79" lengthAdjust="spacingAndGlyphs" class="l">100.1</text>
<text x="78.76" y="336.10" font-size="11" fill="#2c3e50" textLength="31.03" lengthAdjust="spacingAndGlyphs" class="l">80.98</text>
<text x="81.53" y="386.10" font-size="11" fill="#2c3e50" textLength="28.22" lengthAdjust="spacingAndGlyphs" class="l">61.83</text>
<text x="79.82" y="436.10" font-size="11" fill="#2c3e50" textLength="30.39" lengthAdjust="spacingAndGlyphs" class="l">42.67</text>
<text x="79.08" y="486.10" font-size="11" fill="#2c3e50" textLength="31.05" lengthAdjust="spacingAndGlyphs" class="l">23.52</text>
<rect x="120" y="482" width="1" height="4" fill="#2c3e50"/>
<text x="95.97" y="501.75" font-size="11" fill="#2c3e50" textLength="27.86" lengthAdjust="spacingAndGlyphs" class="l">2022</text>
<rect x="124.40" y="498.10" width="6.00" height="1.3" fill="#2c3e50" opacity=".7"/>
<text x="130.30" y="501.75" font-size="11" fill="#2c3e50" textLength="14.26" lengthAdjust="spacingAndGlyphs" class="l">08</text>
<rect x="268" y="482" width="1" height="4" fill="#2c3e50"/>
<text x="243.97" y="501.75" font-size="11" fill="#2c3e50" textLength="27.78" lengthAdjust="spacingAndGlyphs" class="l">2023</text>
<rect x="272.40" y="498.10" width="6.00" height="1.3" fill="#2c3e50" opacity=".7"/>
<text x="278.30" y="501.75" font-size="11" fill="#2c3e50" textLength="14.24" lengthAdjust="spacingAndGlyphs" class="l">05</text>
<rect x="416" y="482" width="1" height="4" fill="#2c3e50"/>
<text x="391.98" y="501.75" font-size="11" fill="#2c3e50" textLength="27.59" lengthAdjust="spacingAndGlyphs" class="l">2024</text>
<rect x="420.40" y="498.10" width="6.00" height="1.3" fill="#2c3e50" opacity=".7"/>
<text x="426.30" y="501.75" font-size="11" fill="#2c3e50" textLength="14.35" lengthAdjust="spacingAndGlyphs" class="l">02</text>
<rect x="564" y="482" width="1" height="4" fill="#2c3e50"/>
<text x="542.79" y="501.75" font-size="11" fill="#2c3e50" textLength="27.17" lengthAdjust="spacingAndGlyphs" class="l">2024</text>
<rect x="570.80" y="498.10" width="6.00" height="1.3" fill="#2c3e50" opacity=".7"/>
<text x="577.89" y="501.75" font-size="11" fill="#2c3e50" textLength="3.74" lengthAdjust="spacingAndGlyphs" class="l">1</text>
<text x="581.99" y="501.75" font-size="11" fill="#2c3e50" textLength="3.74" lengthAdjust="spacingAndGlyphs" class="l">1</text>
<rect x="712" y="482" width="1" height="4" fill="#2c3e50"/>
<text x="687.97" y="501.75" font-size="11" fill="#2c3e50" textLength="27.75" lengthAdjust="spacingAndGlyphs" class="l">2025</text>
<rect x="716.40" y="498.10" width="6.00" height="1.3" fill="#2c3e50" opacity=".7"/>
<text x="722.30" y="501.75" font-size="11" fill="#2c3e50" textLength="14.35" lengthAdjust="spacingAndGlyphs" class="l">07</text>
<rect x="720" y="482" width="1" height="4" fill="#2c3e50"/>
<text x="695.97" y="501.75" font-size="11" fill="#2c3e50" textLength="27.75" lengthAdjust="spacingAndGlyphs" class="l">2025</text>
<rect x="724.40" y="498.10" width="6.00" height="1.3" fill="#2c3e50" opacity=".7"/>
<text x="730.30" y="501.75" font-size="11" fill="#2c3e50" textLength="14.26" lengthAdjust="spacingAndGlyphs" class="l">08</text>
<text x="20.29" y="40.20" font-size="18" fill="#2c3e50" textLength="95.01" lengthAdjust="spacingAndGlyphs" class="t">688383.SH</text>
<text x="121.27" y="40.20" font-size="18" fill="#2c3e50" class="l">周</text>
<text x="138.62" y="40.20" font-size="18" fill="#2c3e50" textLength="12.85" lengthAdjust="spacingAndGlyphs" class="t">K</text>
<text x="151.02" y="40.20" font-size="18" fill="#2c3e50" textLength="35.43" lengthAdjust="spacingAndGlyphs" class="l">线图</text>
<text x="20.25" y="62.90" font-size="12" fill="#7f8c8d" textLength="47.63" lengthAdjust="spacingAndGlyphs" class="l">时间范围</text>
<text x="68.36" y="62.85" font-size="12" fill="#7f8c8d" textLength="4.38" lengthAdjust="spacingAndGlyphs" class="l">:</text>
<text x="75.16" y="62.70" font-size="12" fill="#7f8c8d" textLength="28.28" lengthAdjust="spacingAndGlyphs">2022</text>
<rect x="103.80" y="58.95" width="6.40" height="1.3" fill="#7f8c8d" opacity=".7"/>
<text x="110.71" y="62.70" font-size="12" fill="#7f8c8d" textLength="13.83" lengthAdjust="spacingAndGlyphs">08</text>
<rect x="124.80" y="58.95" width="6.20" height="1.3" fill="#7f8c8d" opacity=".7"/>
<text x="131.17" y="62.70" font-size="12" fill="#7f8c8d" textLength="13.98" lengthAdjust="spacingAndGlyphs">26</text>
<text x="148.90" y="62.90" font-size="12" fill="#7f8c8d" class="l">至</text>
<text x="165.63" y="62.70" font-size="12" fill="#7f8c8d" textLength="27.49" lengthAdjust="spacingAndGlyphs">2025</text>
<rect x="193.50" y="58.95" width="6.20" height="1.3" fill="#7f8c8d" opacity=".7"/>
<text x="200.01" y="62.70" font-size="12" fill="#7f8c8d" textLength="13.93" lengthAdjust="spacingAndGlyphs">08</text>
<rect x="214.30" y="58.95" width="6.20" height="1.3" fill="#7f8c8d" opacity=".7"/>
<text x="221.01" y="62.70" font-size="12" fill="#7f8c8d" textLength="13.83" lengthAdjust="spacingAndGlyphs">08</text>
<text x="399.20" y="63.00" font-size="12" fill="#7f8c8d" textLength="47.69" lengthAdjust="spacingAndGlyphs" class="l">当前价格</text>
<text x="446.77" y="62.85" font-size="12" fill="#7f8c8d" textLength="4.67" lengthAdjust="spacingAndGlyphs" class="l">:</text>
<text x="454.76" y="62.85" font-size="12" fill="#7f8c8d" textLength="31.39" lengthAdjust="spacingAndGlyphs">74.26</text>
<text x="493.82" y="63.00" font-size="12" fill="#7f8c8d" textLength="47.09" lengthAdjust="spacingAndGlyphs" class="l">区间高点</text>
<text x="539.37" y="62.85" font-size="12" fill="#7f8c8d" textLength="4.67" lengthAdjust="spacingAndGlyphs" class="l">:</text>
<text x="549.10" y="62.85" font-size="12" fill="#7f8c8d" textLength="36.11" lengthAdjust="spacingAndGlyphs">163.98</text>
<text x="593.42" y="63.00" font-size="12" fill="#7f8c8d" textLength="47.20" lengthAdjust="spacingAndGlyphs" class="l">区间低点</text>
<text x="639.67" y="62.85" font-size="12" fill="#7f8c8d" textLength="4.67" lengthAdjust="spacingAndGlyphs" class="l">:</text>
<text x="648.32" y="62.85" font-size="12" fill="#7f8c8d" textLength="31.27" lengthAdjust="spacingAndGlyphs">36.29</text>
</svg>
</body></html>
